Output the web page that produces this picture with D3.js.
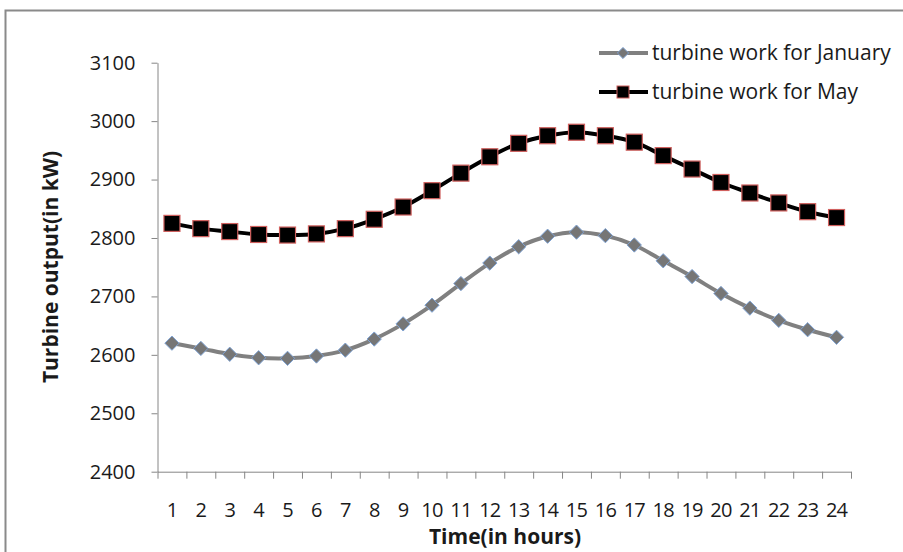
<!DOCTYPE html>
<html>
<head>
<meta charset="utf-8">
<script src="https://cdn.jsdelivr.net/npm/d3@7"></script>
<style>
  body { margin: 0; background: #fff; }
  svg { display: block; font-family: "Open Sans", sans-serif; }
</style>
</head>
<body>
<div id="app"></div>
<script>
// data
const hours = d3.range(1, 25);
const january = [2620, 2611, 2601, 2595, 2594, 2598, 2608, 2627, 2653, 2685, 2722, 2757,
                 2785, 2803, 2810, 2804, 2788, 2761, 2734, 2705, 2680, 2659, 2643, 2630];
const may = [2825, 2816, 2811, 2806, 2805, 2807, 2816, 2832, 2853, 2881, 2911, 2939,
             2962, 2975, 2981, 2975, 2964, 2941, 2918, 2895, 2877, 2860, 2845, 2835];
const yTicks = [2400, 2500, 2600, 2700, 2800, 2900, 3000, 3100];
const seriesNames = ["turbine work for January", "turbine work for May"];

const w = 903, h = 552;
const svg = d3.select("#app").append("svg")
    .attr("width", w)
    .attr("height", h);

// outer frame
svg.append("rect")
    .attr("x", 5.5).attr("y", 10.5)
    .attr("width", 920).attr("height", 570)
    .attr("fill", "none")
    .attr("stroke", "#8a8a8a")
    .attr("stroke-width", 2);

const plotL = 157.5, plotR = 851, plotT = 62.7, plotB = 471.7;
const axisColor = "#868686";
const textColor = "#1a1a1a";

const x = d3.scaleBand().domain(hours).range([plotL, plotR]);
const xEdge = d3.scaleLinear().domain([0, 24]).range([plotL, plotR]);
const y = d3.scaleLinear().domain([2400, 3100]).range([plotB, plotT]);
const cx = d => x(d) + x.bandwidth() / 2;

// y axis
const yAxis = svg.append("g")
    .attr("transform", "translate(" + plotL + ",0)")
    .call(d3.axisLeft(y).tickValues(yTicks).tickFormat(d3.format("d"))
        .tickSize(6).tickPadding(16).tickSizeOuter(0));
yAxis.select(".domain").attr("stroke", axisColor);
yAxis.selectAll(".tick line").attr("stroke", axisColor);
yAxis.selectAll(".tick text")
    .attr("font-size", 20).attr("fill", textColor)
    .attr("font-family", "Open Sans");

// x axis: tick marks at band edges, labels at centres
const xTickG = svg.append("g")
    .attr("transform", "translate(0," + plotB + ")")
    .call(d3.axisBottom(xEdge).tickValues(d3.range(0, 25)).tickSize(7).tickFormat("").tickSizeOuter(0));
xTickG.select(".domain").attr("stroke", axisColor);
xTickG.selectAll(".tick line").attr("stroke", axisColor);

const xLab = svg.append("g")
    .attr("transform", "translate(0," + plotB + ")")
    .call(d3.axisBottom(x).tickSize(0).tickPadding(31));
xLab.select(".domain").remove();
xLab.selectAll(".tick text")
    .attr("font-size", 20).attr("fill", textColor)
    .attr("font-family", "Open Sans")
    .attr("letter-spacing", -0.8);

// titles
svg.append("text")
    .attr("transform", "translate(58,267) rotate(-90)")
    .attr("text-anchor", "middle")
    .attr("font-size", 21).attr("font-weight", "bold")
    .attr("fill", textColor)
    .text("Turbine output(in kW)");

svg.append("text")
    .attr("x", 505).attr("y", 544)
    .attr("text-anchor", "middle")
    .attr("font-size", 21).attr("font-weight", "bold")
    .attr("fill", textColor)
    .text("Time(in hours)");

const line = d3.line()
    .x((d, i) => cx(hours[i]))
    .y(d => y(d))
    .curve(d3.curveCatmullRom.alpha(0.5));

// January series
svg.append("path")
    .datum(january)
    .attr("d", line)
    .attr("fill", "none")
    .attr("stroke", "#808080")
    .attr("stroke-width", 4);

const diamond = d3.symbol().type(d3.symbolDiamond2).size(130);
svg.selectAll(".jan")
    .data(january)
    .enter().append("path")
    .attr("class", "jan")
    .attr("d", diamond)
    .attr("transform", (d, i) => "translate(" + cx(hours[i]) + "," + y(d) + ")")
    .attr("fill", "#767676")
    .attr("stroke", "#7fa3d4")
    .attr("stroke-width", 1);

// May series
svg.append("path")
    .datum(may)
    .attr("d", line)
    .attr("fill", "none")
    .attr("stroke", "#000")
    .attr("stroke-width", 4);

svg.selectAll(".may")
    .data(may)
    .enter().append("rect")
    .attr("class", "may")
    .attr("x", (d, i) => cx(hours[i]) - 8)
    .attr("y", d => y(d) - 8)
    .attr("width", 16).attr("height", 16)
    .attr("fill", "#000")
    .attr("stroke", "#d0605e")
    .attr("stroke-width", 1.2);

// legend
const legend = svg.append("g");
const legY = [53, 92];
legend.append("line")
    .attr("x1", 599).attr("x2", 648).attr("y1", legY[0]).attr("y2", legY[0])
    .attr("stroke", "#808080").attr("stroke-width", 4);
legend.append("path")
    .attr("d", d3.symbol().type(d3.symbolDiamond2).size(80))
    .attr("transform", "translate(623," + legY[0] + ")")
    .attr("fill", "#767676").attr("stroke", "#7fa3d4");
legend.append("line")
    .attr("x1", 599).attr("x2", 648).attr("y1", legY[1]).attr("y2", legY[1])
    .attr("stroke", "#000").attr("stroke-width", 4);
legend.append("rect")
    .attr("x", 617).attr("y", legY[1] - 6).attr("width", 12).attr("height", 12)
    .attr("fill", "#000").attr("stroke", "#d0605e");
legend.selectAll("text")
    .data(seriesNames)
    .enter().append("text")
    .attr("x", 652)
    .attr("y", (d, i) => legY[i])
    .attr("dy", "0.35em")
    .attr("font-size", 21)
    .attr("fill", textColor)
    .text(d => d);
</script>
</body>
</html>
